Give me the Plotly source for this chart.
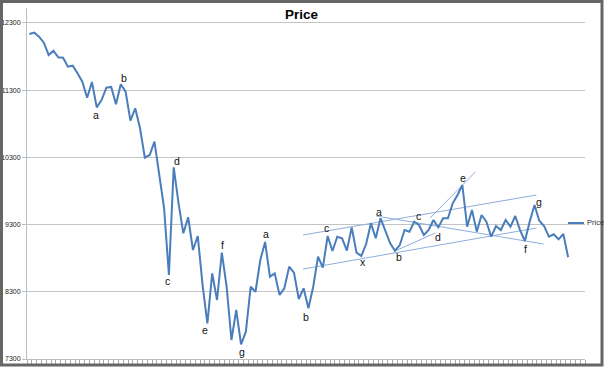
import plotly.graph_objects as go

# ---------------- data ----------------
price = [
    12136, 12156, 12096, 12007, 11824, 11888, 11790, 11784, 11650, 11665,
    11551, 11427, 11188, 11422, 11045, 11154, 11337, 11348, 11090, 11388,
    11278, 10846, 11030, 10733, 10296, 10336, 10534, 10000, 9547, 8550,
    10153, 9620, 9170, 9409, 8922, 9130, 8400, 7831, 8575, 8178,
    8882, 8376, 7583, 8029, 7519, 7707, 8376, 8301, 8773, 9041,
    8525, 8575, 8252, 8352, 8674, 8585, 8193, 8352, 8054, 8376,
    8823, 8659, 9130, 8907, 9120, 9096, 8912, 9259, 8882, 8833,
    9011, 9319, 9096, 9394, 9195, 9022, 8911, 8996, 9219, 9195,
    9343, 9294, 9145, 9219, 9368, 9259, 9394, 9394, 9617, 9740,
    9889, 9269, 9517, 9195, 9443, 9343, 9120, 9279, 9219, 9368,
    9269, 9428, 9219, 9056, 9343, 9592, 9358, 9279, 9120, 9155,
    9081, 9160, 8814,
]
n_categories = 116
y_ticks = [7300, 8300, 9300, 10300, 11300, 12300]
y_tick_labels = ["7300", "8300", "9300", "10300", "11300", "12300"]

# wave labels: (index, text, x shift px, y shift px)
wave_idx = [14, 19, 29, 30, 37, 40, 44, 49, 58, 62, 69, 73, 76, 81, 85, 90, 103, 105]
wave_txt = ["a", "b", "c", "d", "e", "f", "g", "a", "b", "c", "x", "a", "b", "c", "d", "e", "f", "g"]
wave_dx = [-1, 3, -1, 3, -2, 1, 1, 1, -2, -1, 2, -2, 4, -1, 0, 1, 1, 5]
wave_dy = [-8, 6, -6, 6, -7, 8, -8, 8, -9, 8, -6, 6, -6, 9, -10, 7, -8, 3]

# trend lines (x index, value) pairs
trend_x = [[56.9, 105.4], [56.9, 105.4], [72.1, 106.9], [76.0, 84.4], [83.3, 92.7]]
trend_y = [[9145, 9740], [8639, 9249], [9428, 9011], [8907, 9175], [9398, 10083]]

# ---------------- figure ----------------
W, H = 604, 369
PL, PR, PT, PB = 27, 585, 8, 359   # plot area in pixels


def fx(p):
    return p / W


def fy(p):
    return 1 - p / H


fig = go.Figure()

for tx, ty in zip(trend_x, trend_y):
    fig.add_trace(go.Scatter(x=tx, y=ty, mode="lines",
                             line=dict(color="#8EAEDB", width=1),
                             hoverinfo="skip", showlegend=False))

fig.add_trace(go.Scatter(x=list(range(len(price))), y=price, mode="lines",
                         name="Price", line=dict(color="#4A7EBB", width=2),
                         showlegend=False))

for i, t, dx, dy in zip(wave_idx, wave_txt, wave_dx, wave_dy):
    fig.add_annotation(x=i, y=price[i], text=t, showarrow=False,
                       xshift=dx, yshift=dy, xanchor="center", yanchor="middle",
                       font=dict(family="Liberation Sans", size=10.5, color="#111111"))

# manual legend
fig.add_shape(type="line", xref="paper", yref="paper",
              x0=fx(568), x1=fx(584), y0=fy(223), y1=fy(223),
              line=dict(color="#4A7EBB", width=2))
fig.add_annotation(xref="paper", yref="paper", x=fx(585), y=fy(223),
                   text="Price", showarrow=False, xanchor="left", yanchor="middle",
                   font=dict(family="Liberation Sans", size=7.5, color="#333333"))

# outer frame
fig.add_shape(type="rect", xref="paper", yref="paper",
              x0=fx(1.5), x1=fx(602), y0=fy(365), y1=fy(1.5),
              line=dict(color="#666666", width=3), fillcolor="rgba(0,0,0,0)",
              layer="above")

fig.update_layout(
    width=W, height=H,
    margin=dict(l=0, r=0, t=0, b=0, pad=0),
    paper_bgcolor="white", plot_bgcolor="white",
    title=dict(text="<b>Price</b>", x=301.5 / W, xref="container", xanchor="center",
               y=1 - 14 / H, yref="container", yanchor="middle",
               font=dict(family="Liberation Sans", size=13.5, color="black")),
    xaxis=dict(domain=[fx(PL), fx(PR)], automargin=False,
               range=[-0.5, n_categories - 0.5], tickmode="linear", tick0=-0.5, dtick=1,
               ticks="outside", ticklen=4, tickcolor="#A8A8A8", tickwidth=1,
               showticklabels=False, showgrid=False, zeroline=False,
               showline=True, linecolor="#BEBEBE", linewidth=1),
    yaxis=dict(domain=[fy(PB), fy(PT)], automargin=False,
               range=[7300, 12523], tickvals=y_ticks, ticktext=y_tick_labels,
               ticks="outside", ticklen=4, tickcolor="#BEBEBE",
               showgrid=True, gridcolor="#C4C4C4", gridwidth=1.3,
               zeroline=False, showline=True, linecolor="#BEBEBE", linewidth=1,
               tickfont=dict(family="Liberation Sans", size=7, color="#222222")),
)

fig.write_html("out.html",
               config={"displayModeBar": False},
               post_script="document.body.style.margin='0px';document.body.style.overflow='hidden';")
